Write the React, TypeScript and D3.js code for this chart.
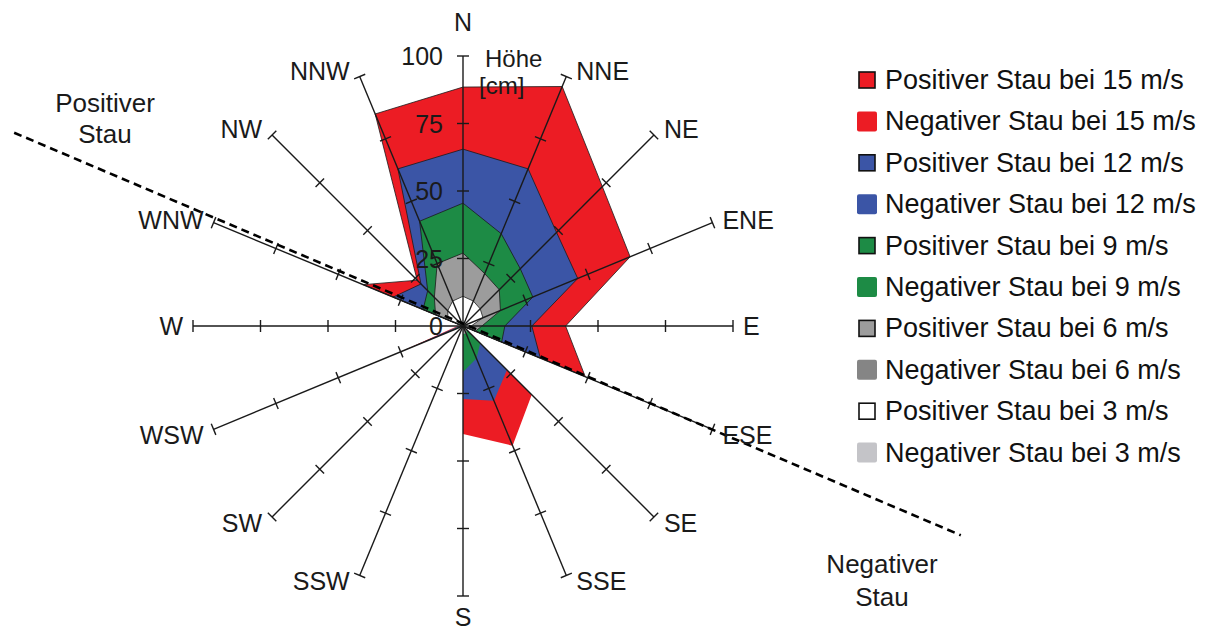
import React from 'react';
import * as d3 from 'd3';

// compass directions, clockwise from north
const directions = ['N', 'NNE', 'NE', 'ENE', 'E', 'ESE', 'SE', 'SSE', 'S', 'SSW', 'SW', 'WSW', 'W', 'WNW', 'NW', 'NNW'];
const radialTicks = [0, 25, 50, 75, 100];

// surge height [cm] per direction
//                 N    NNE  NE   ENE  E    ESE  SE  SSE S   SSW SW WSW W    WNW NW   NNW
const positive15 = [88.5, 96, 73, 67, 38, 49, 0, 0, 0, 0, 0, 0, 0, 40, 24, 85];
const negative15 = [0, 0, 0, 0, 0, 0, 36, 48, 40, 0, 0, 27, 2, 0, 0, 0];
const positive12 = [65.5, 63, 49, 46, 25.5, 31, 0, 0, 0, 0, 0, 0, 0, 28, 22, 63];
const negative12 = [0, 0, 0, 0, 0, 0, 23, 30, 27, 0, 0, 22, 1.5, 0, 0, 0];
const positive9 = [45.5, 37, 30, 28, 15.5, 15.5, 0, 0, 0, 0, 0, 0, 0, 16, 18.5, 42];
const negative9 = [0, 0, 0, 0, 0, 0, 9, 13, 17, 0, 0, 10, 1, 0, 0, 0];
const positive6 = [27, 21, 19, 15, 7, 5, 0, 0, 0, 0, 0, 0, 0, 11, 15, 25];
const negative6 = [0, 0, 0, 0, 0, 0, 2, 3, 3, 0, 0, 0, 0, 0, 0, 0];
const positive3 = [11, 10, 9, 8, 3, 2, 0, 0, 0, 0, 0, 0, 0, 6, 8, 10];
const negative3 = [0, 0, 0, 0, 0, 0, 0, 1, 1, 0, 0, 0, 0, 0, 0, 0];

const legendLabels = [
  'Positiver Stau bei 15 m/s', 'Negativer Stau bei 15 m/s',
  'Positiver Stau bei 12 m/s', 'Negativer Stau bei 12 m/s',
  'Positiver Stau bei 9 m/s', 'Negativer Stau bei 9 m/s',
  'Positiver Stau bei 6 m/s', 'Negativer Stau bei 6 m/s',
  'Positiver Stau bei 3 m/s', 'Negativer Stau bei 3 m/s',
];

const red = '#ec1c24';
const blue = '#3b55a6';
const green = '#1d8b45';

const series = [
  { values: positive15, fill: red, legendFill: red, positive: true },
  { values: negative15, fill: red, legendFill: red, positive: false },
  { values: positive12, fill: blue, legendFill: blue, positive: true },
  { values: negative12, fill: blue, legendFill: blue, positive: false },
  { values: positive9, fill: green, legendFill: green, positive: true },
  { values: negative9, fill: green, legendFill: green, positive: false },
  { values: positive6, fill: '#9c9c9c', legendFill: '#9c9c9c', positive: true },
  { values: negative6, fill: '#9c9c9c', legendFill: '#858585', positive: false },
  { values: positive3, fill: '#ffffff', legendFill: '#ffffff', positive: true },
  { values: negative3, fill: '#c4c4c8', legendFill: '#c4c4c8', positive: false },
];

// dashed separator between positive and negative surge (bearing in degrees, value in cm)
const dividerStart = { bearing: 293.3, value: 181 };
const dividerEnd = { bearing: 112.8, value: 200 };

const font = '"Liberation Sans", Arial, sans-serif';

export default function App() {
  const width = 1206;
  const height = 635;
  const cx = 463;
  const cy = 326;

  const r = d3.scaleLinear().domain([0, 100]).range([0, 270]);
  const angle = d3.scaleLinear().domain([0, directions.length]).range([0, 2 * Math.PI]);

  const polar = (a: number, v: number): [number, number] => [
    cx + r(v) * Math.sin(a),
    cy - r(v) * Math.cos(a),
  ];

  const area = d3
    .lineRadial<number>()
    .angle((_, i) => angle(i))
    .radius((v) => r(v))
    .curve(d3.curveLinearClosed);

  const tickHalf = 6;

  const dStart = polar((dividerStart.bearing * Math.PI) / 180, dividerStart.value);
  const dEnd = polar((dividerEnd.bearing * Math.PI) / 180, dividerEnd.value);

  return (
    <svg
      width={width}
      height={height}
      style={{ position: 'absolute', left: 0, top: 0, background: '#fff' }}
      fontFamily={font}
    >
      {/* polygons */}
      <g transform={`translate(${cx},${cy})`}>
        {series.map((s, k) => (
          <path
            key={k}
            d={area(s.values) || ''}
            fill={s.fill}
            stroke={s.positive ? '#1a1a1a' : 'none'}
            strokeWidth={0.8}
            strokeLinejoin="round"
          />
        ))}
      </g>

      {/* spokes with ticks */}
      {directions.map((dir, i) => {
        const a = angle(i);
        const [x2, y2] = polar(a, 100);
        const px = Math.cos(a);
        const py = Math.sin(a);
        return (
          <g key={dir}>
            <line x1={cx} y1={cy} x2={x2} y2={y2} stroke="#1a1a1a" strokeWidth={1.4} />
            {radialTicks.slice(1).map((t) => {
              const [tx, ty] = polar(a, t);
              return (
                <line
                  key={t}
                  x1={tx - px * tickHalf}
                  y1={ty - py * tickHalf}
                  x2={tx + px * tickHalf}
                  y2={ty + py * tickHalf}
                  stroke="#1a1a1a"
                  strokeWidth={1.4}
                />
              );
            })}
          </g>
        );
      })}

      {/* divider */}
      <line
        x1={dStart[0]}
        y1={dStart[1]}
        x2={dEnd[0]}
        y2={dEnd[1]}
        stroke="#000"
        strokeWidth={2.6}
        strokeDasharray="8,5"
      />

      {/* direction labels */}
      {directions.map((dir, i) => {
        const a = angle(i);
        const [ex, ey] = polar(a, 100);
        const s = Math.sin(a);
        const c = Math.cos(a);
        let x = ex;
        let y = ey;
        let anchor: 'start' | 'middle' | 'end' = 'middle';
        if (Math.abs(s) < 0.01) {
          y = c > 0 ? ey - 34 : ey + 21;
        } else {
          anchor = s > 0 ? 'start' : 'end';
          x = ex + (s > 0 ? 10 : -10);
          if (c > 0.5) y = ey - 6;
          else if (c > 0.01) y = ey - 3;
          else if (c < -0.01) y = ey + 6;
        }
        return (
          <text
            key={dir}
            x={x}
            y={y}
            textAnchor={anchor}
            dominantBaseline="central"
            fontSize={25}
            fill="#1a1a1a"
          >
            {dir}
          </text>
        );
      })}

      {/* radial tick labels along north axis */}
      {radialTicks.map((t) => (
        <text
          key={t}
          x={cx - 20}
          y={cy - r(t)}
          textAnchor="end"
          dominantBaseline="central"
          fontSize={25}
          fill="#1a1a1a"
        >
          {t}
        </text>
      ))}
      <text x={485} y={67} fontSize={24} fill="#1a1a1a">Höhe</text>
      <text x={479} y={94} fontSize={24} fill="#1a1a1a">[cm]</text>

      {/* side annotations */}
      <text x={105} y={112} textAnchor="middle" fontSize={26} fill="#1a1a1a">Positiver</text>
      <text x={105} y={143} textAnchor="middle" fontSize={26} fill="#1a1a1a">Stau</text>
      <text x={882} y={573} textAnchor="middle" fontSize={26} fill="#1a1a1a">Negativer</text>
      <text x={882} y={606} textAnchor="middle" fontSize={26} fill="#1a1a1a">Stau</text>

      {/* legend */}
      {legendLabels.map((label, k) => {
        const y = 80 + k * 41.4;
        const s = series[k];
        return (
          <g key={label}>
            {s.positive ? (
              <rect x={859} y={y - 8} width={16} height={16} fill={s.legendFill} stroke="#111" strokeWidth={1.6} />
            ) : (
              <rect x={857} y={y - 10} width={20} height={20} rx={2} fill={s.legendFill} />
            )}
            <text x={885} y={y} dominantBaseline="central" fontSize={27} fill="#111">
              {label}
            </text>
          </g>
        );
      })}
    </svg>
  );
}
